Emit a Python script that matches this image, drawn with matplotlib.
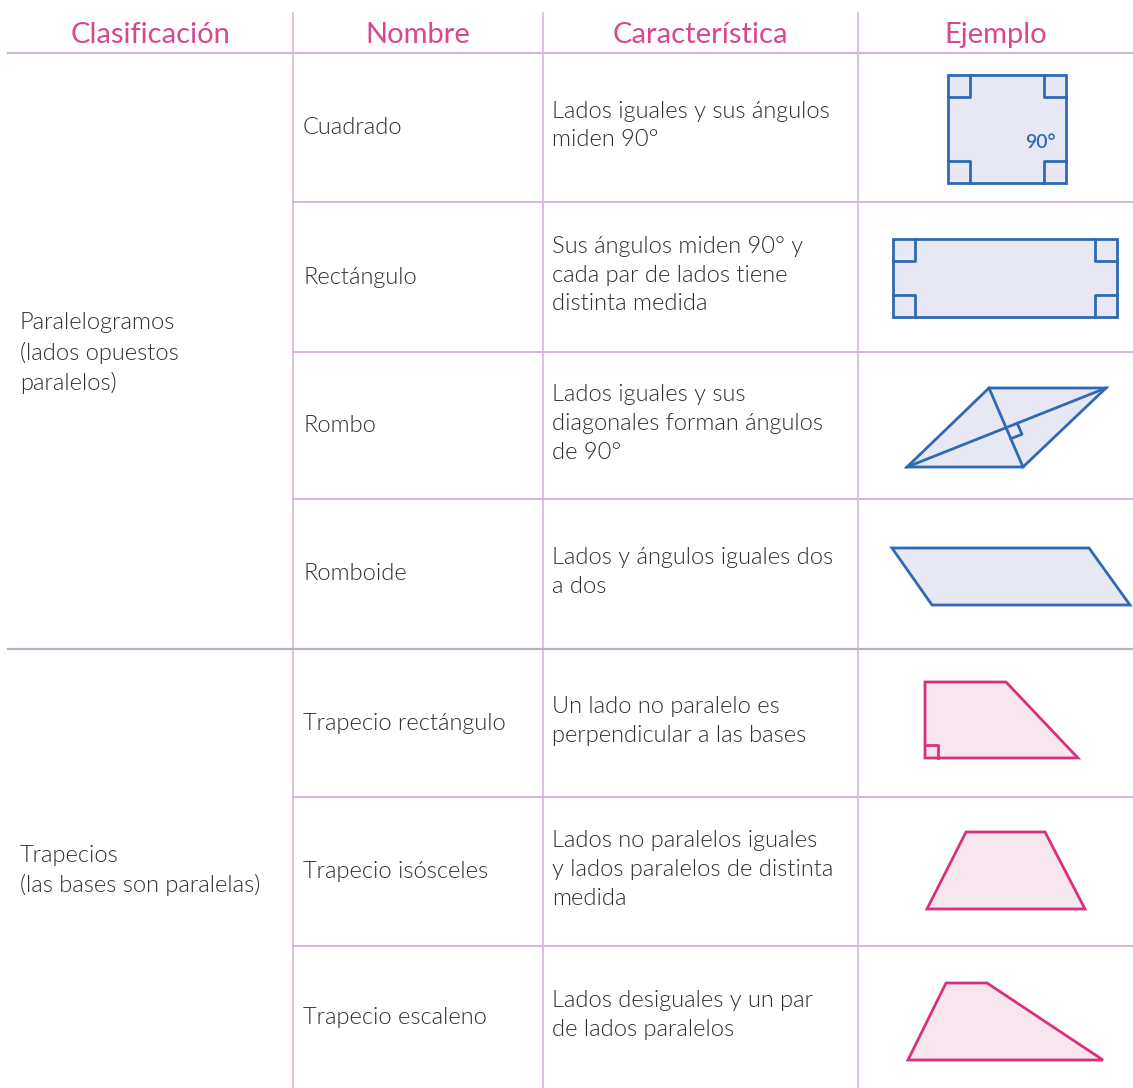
import matplotlib
matplotlib.use("Agg")
import matplotlib.pyplot as plt
from matplotlib.patches import Polygon
import numpy as np

# --- contenido de la tabla ---
headers = ["Clasificación", "Nombre", "Característica", "Ejemplo"]
clasificaciones = ["Paralelogramos\n(lados opuestos\nparalelos)",
                   "Trapecios\n(las bases son paralelas)"]
nombres = ["Cuadrado", "Rectángulo", "Rombo", "Romboide",
           "Trapecio rectángulo", "Trapecio isósceles", "Trapecio escaleno"]
caracteristicas = [
    "Lados iguales y sus ángulos\nmiden 90°",
    "Sus ángulos miden 90° y\ncada par de lados tiene\ndistinta medida",
    "Lados iguales y sus\ndiagonales forman ángulos\nde 90°",
    "Lados y ángulos iguales dos\na dos",
    "Un lado no paralelo es\nperpendicular a las bases",
    "Lados no paralelos iguales\ny lados paralelos de distinta\nmedida",
    "Lados desiguales y un par\nde lados paralelos",
]
grupo = [0, 0, 0, 0, 1, 1, 1]

# --- geometría (pixeles de la imagen) ---
W, H = 1133, 1088
col_x = [8, 293, 543, 858, W]
header_y = 53
row_y = [53, 202, 352, 499, 649, 797, 946, H]

# vértices de los ejemplos
cuadrado = [(948, 75), (1066, 75), (1066, 183), (948, 183)]
rectangulo = [(893, 239), (1117, 239), (1117, 317), (893, 317)]
rombo = [(907, 467), (989, 388), (1106, 388), (1023, 467)]
romboide = [(892, 548), (1089, 548), (1130, 605), (932, 605)]
trap_rect = [(925, 682), (1006, 682), (1078, 758), (925, 758)]
trap_isos = [(966, 832), (1045, 832), (1085, 909), (927, 909)]
trap_esc = [(946, 983), (987, 983), (1103, 1060), (908, 1060)]

LINE = "#d7b5db"
LINE_DARK = "#bfaec2"
PINK = "#d9478f"
TXT = "#2e2e2e"
BLUE, BLUE_F = "#2f69b3", "#e7e8f4"
MAG, MAG_F = "#d8307e", "#f6e7ef"

plt.rcParams["font.family"] = ["Lato", "DejaVu Sans"]

fig = plt.figure(figsize=(W / 100, H / 100), dpi=100)
ax = fig.add_axes([0, 0, 1, 1])
ax.set_xlim(0, W)
ax.set_ylim(H, 0)
ax.set_axis_off()

# rejilla
ax.plot([col_x[0], W], [header_y, header_y], color=LINE, lw=1.6)
for x in col_x[1:4]:
    ax.plot([x, x], [13, H], color=LINE, lw=1.2)
for y in row_y[1:-1]:
    if y == 649:
        ax.plot([col_x[0], W], [y, y], color=LINE_DARK, lw=1.6)
    else:
        ax.plot([col_x[1], W], [y, y], color=LINE, lw=1.4)

# encabezados
for i, h in enumerate(headers):
    cx = (col_x[i] + col_x[i + 1]) / 2
    ax.text(cx, 35, h, color=PINK, fontsize=21, fontweight="normal", ha="center", va="center")

FS = 17
WT = 300
# clasificación
ax.text(20, (row_y[0] + row_y[4]) / 2 + 2, clasificaciones[0], color=TXT,
        fontsize=FS, fontweight=WT, ha="left", va="center", linespacing=1.45)
ax.text(20, (row_y[4] + row_y[7]) / 2 + 2, clasificaciones[1], color=TXT,
        fontsize=FS, fontweight=WT, ha="left", va="center", linespacing=1.45)

# nombres y características
for i in range(len(nombres)):
    cy = (row_y[i] + row_y[i + 1]) / 2
    ax.text(col_x[1] + 10, cy, nombres[i], color=TXT, fontsize=FS,
            fontweight=WT, ha="left", va="center")
    ax.text(col_x[2] + 9, cy - 2, caracteristicas[i], color=TXT, fontsize=FS,
            fontweight=WT, ha="left", va="center", linespacing=1.45)


def figura(pts, edge, face):
    ax.add_patch(Polygon(pts, closed=True, facecolor=face, edgecolor=edge, lw=2, joinstyle="miter"))


def angulo_recto(p, u, v, s, color):
    p, u, v = np.array(p, float), np.array(u, float), np.array(v, float)
    u, v = u / np.linalg.norm(u), v / np.linalg.norm(v)
    q = [p + s * u, p + s * u + s * v, p + s * v]
    ax.plot([q[0][0], q[1][0], q[2][0]], [q[0][1], q[1][1], q[2][1]], color=color, lw=2)


shapes = [cuadrado, rectangulo, rombo, romboide, trap_rect, trap_isos, trap_esc]
for i, pts in enumerate(shapes):
    if grupo[i] == 0:
        figura(pts, BLUE, BLUE_F)
    else:
        figura(pts, MAG, MAG_F)

# marcas de ángulo recto en cuadrado y rectángulo
for pts in (cuadrado, rectangulo):
    (x0, y0), (x1, _), (_, y1) = pts[0], pts[1], pts[2]
    for (px, py), (ux, uy) in [((x0, y0), (1, 1)), ((x1, y0), (-1, 1)),
                               ((x1, y1), (-1, -1)), ((x0, y1), (1, -1))]:
        angulo_recto((px, py), (ux, 0), (0, uy), 22, BLUE)
ax.text(1040, 143, "90°", color=BLUE, fontsize=14, fontweight="semibold", ha="center", va="center")

# diagonales del rombo
A, B, C, D = [np.array(p, float) for p in rombo]
ax.plot([A[0], C[0]], [A[1], C[1]], color=BLUE, lw=2)
ax.plot([B[0], D[0]], [B[1], D[1]], color=BLUE, lw=2)
# intersección de diagonales
M = np.array([[C[0] - A[0], -(D[0] - B[0])], [C[1] - A[1], -(D[1] - B[1])]])
t, _ = np.linalg.solve(M, B - A)
P = A + t * (C - A)
angulo_recto(P, C - A, D - B, 12, BLUE)

# ángulo recto del trapecio rectángulo
angulo_recto(trap_rect[3], (1, 0), (0, -1), 13, MAG)

fig.savefig("out.png", dpi=100)
